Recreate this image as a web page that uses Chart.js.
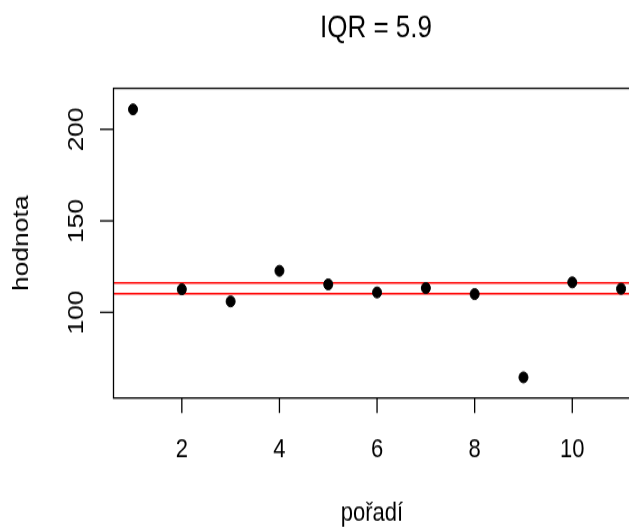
<!DOCTYPE html>
<html><head><meta charset="utf-8">
<script src="https://cdn.jsdelivr.net/npm/chart.js@4.4.0/dist/chart.umd.min.js"></script>
<style>
html,body{margin:0;padding:0;background:#fff;overflow:hidden;width:629px;height:528px}
#wrap{position:absolute;left:0;top:0;width:642px;height:440px;transform:scaleY(1.2);transform-origin:0 0}
canvas{display:block}
</style></head><body>
<div id="wrap"><canvas id="c" width="642" height="440"></canvas></div>
<script>
// data
const poradi = [1, 2, 3, 4, 5, 6, 7, 8, 9, 10, 11];
const hodnota = [210.9, 112.6, 106.0, 122.7, 115.3, 110.9, 113.3, 110.0, 64.5, 116.4, 112.9];
const xTicks = [2, 4, 6, 8, 10];
const yTicks = [100, 150, 200];
const quartiles = [110.2, 116.1];
const titleText = 'IQR = 5.9';
const xTitle = 'pořadí';
const yTitle = 'hodnota';
const xRange = [0.6, 11.4];
const yRange = [53.2, 222.4];

const FONT = '"Liberation Sans", Arial, sans-serif';

const rAxes = {
  id: 'rAxes',
  afterDraw(chart) {
    const ctx = chart.ctx, a = chart.chartArea;
    const xs = chart.scales.x, ys = chart.scales.y;
    ctx.save();
    ctx.strokeStyle = '#000';
    ctx.fillStyle = '#000';
    ctx.lineWidth = 1.3;
    ctx.strokeRect(a.left, a.top, a.right - a.left, a.bottom - a.top);
    // x ticks
    ctx.font = '22px ' + FONT;
    ctx.textAlign = 'center';
    ctx.textBaseline = 'alphabetic';
    xTicks.forEach(v => {
      const px = xs.getPixelForValue(v);
      ctx.beginPath(); ctx.moveTo(px, a.bottom); ctx.lineTo(px, a.bottom + 12.5); ctx.stroke();
      ctx.fillText(String(v), px, a.bottom + 49);
    });
    // y ticks
    yTicks.forEach(v => {
      const py = ys.getPixelForValue(v);
      ctx.beginPath(); ctx.moveTo(a.left, py); ctx.lineTo(a.left - 13.5, py); ctx.stroke();
      ctx.save();
      ctx.translate(a.left - 30.2, py);
      ctx.rotate(-Math.PI / 2);
      ctx.fillText(String(v), 0, 0);
      ctx.restore();
    });
    // axis titles
    ctx.fillText(xTitle, 372, 434);
    ctx.save();
    ctx.translate(28.3, (a.top + a.bottom) / 2);
    ctx.rotate(-Math.PI / 2);
    ctx.fillText(yTitle, 0, 0);
    ctx.restore();
    // main title
    ctx.font = '26px ' + FONT;
    ctx.fillText(titleText, 376, 30.6);
    ctx.restore();
  }
};

new Chart(document.getElementById('c'), {
  type: 'scatter',
  data: {
    datasets: [
      {
        data: poradi.map((p, i) => ({ x: p, y: hodnota[i] })),
        backgroundColor: '#000',
        borderColor: '#000',
        pointRadius: 4.5,
        borderWidth: 1,
        pointHoverRadius: 4.5
      },
      ...quartiles.map(q => ({
        type: 'line',
        data: [{ x: xRange[0], y: q }, { x: xRange[1], y: q }],
        borderColor: '#ff0000',
        borderWidth: 1.5,
        pointRadius: 0,
        showLine: true,
        fill: false
      }))
    ]
  },
  options: {
    responsive: false,
    animation: false,
    devicePixelRatio: 1,
    layout: { autoPadding: false, padding: { left: 113.5, top: 73.6, right: 1.4, bottom: 108.3 } },
    scales: {
      x: { type: 'linear', display: false, min: xRange[0], max: xRange[1] },
      y: { type: 'linear', display: false, min: yRange[0], max: yRange[1] }
    },
    plugins: { legend: { display: false }, tooltip: { enabled: false }, title: { display: false } }
  },
  plugins: [rAxes]
});
</script>
</body></html>
